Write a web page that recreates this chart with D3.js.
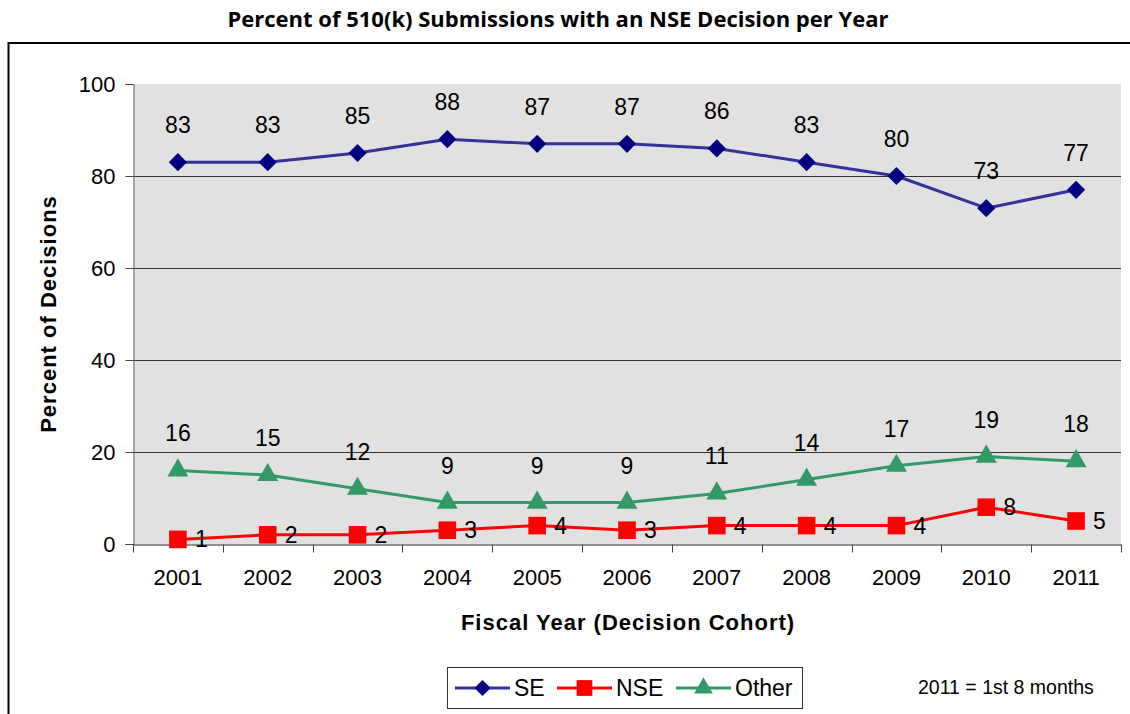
<!DOCTYPE html>
<html>
<head>
<meta charset="utf-8">
<script src="https://cdn.jsdelivr.net/npm/d3@7"></script>
<style>
  body { margin: 0; background: #fff; }
  svg { display: block; font-family: "Liberation Sans", Arial, sans-serif; }
</style>
</head>
<body>
<div id="chart"></div>
<script>
// Data
var years = ["2001", "2002", "2003", "2004", "2005", "2006", "2007", "2008", "2009", "2010", "2011"];
var seValues = [83, 83, 85, 88, 87, 87, 86, 83, 80, 73, 77];
var nseValues = [1, 2, 2, 3, 4, 3, 4, 4, 4, 8, 5];
var otherValues = [16, 15, 12, 9, 9, 9, 11, 14, 17, 19, 18];
var yTicks = [0, 20, 40, 60, 80, 100];
var seriesNames = ["SE", "NSE", "Other"];

// diamond = square turned 45 degrees
var series = [
  {name: seriesNames[0], values: seValues, line: "#333399", marker: "#000080", shape: d3.symbolSquare, rot: 45, size: 165, label: "above"},
  {name: seriesNames[1], values: nseValues, line: "#ff0000", marker: "#ff0000", shape: d3.symbolSquare, rot: 0, size: 310, label: "right"},
  {name: seriesNames[2], values: otherValues, line: "#339966", marker: "#339966", shape: d3.symbolTriangle, rot: 0, size: 190, label: "above"}
];

// Chart dimensions
var W = 1130, H = 714;
var plot = {left: 133, top: 84, right: 1121, bottom: 544};

var svg = d3.select("#chart").append("svg")
  .attr("width", W)
  .attr("height", H);

// Outer frame (runs off the right and bottom edges)
svg.append("rect")
  .attr("x", 8.5).attr("y", 43)
  .attr("width", 1140).attr("height", 700)
  .attr("fill", "none")
  .attr("stroke", "#000")
  .attr("stroke-width", 2);

// Title
svg.append("text")
  .attr("x", 558).attr("y", 27)
  .attr("text-anchor", "middle")
  .style("font-family", "'Open Sans', 'Noto Sans', sans-serif")
  .style("font-weight", "bold")
  .style("font-size", "22px")
  .text("Percent of 510(k) Submissions with an NSE Decision per Year");

// Scales
var x = d3.scaleBand().domain(years).range([plot.left, plot.right]);
var y = d3.scaleLinear().domain([0, 100]).range([plot.bottom, plot.top]);

// Plot background
svg.append("rect")
  .attr("x", plot.left).attr("y", plot.top)
  .attr("width", plot.right - plot.left)
  .attr("height", plot.bottom - plot.top)
  .attr("fill", "#e1e1e1");

// Gridlines
svg.append("g")
  .selectAll("line")
  .data(yTicks.filter(function(d) { return d > 0 && d < 100; }))
  .enter().append("line")
  .attr("x1", plot.left).attr("x2", plot.right)
  .attr("y1", function(d) { return Math.round(y(d)) + 0.5; })
  .attr("y2", function(d) { return Math.round(y(d)) + 0.5; })
  .attr("stroke", "#333")
  .attr("stroke-width", 1);

// Y axis
var yAxis = svg.append("g")
  .attr("transform", "translate(" + (plot.left + 0.5) + ",0)")
  .call(d3.axisLeft(y).tickValues(yTicks).tickSize(8).tickPadding(10));
yAxis.selectAll("text").style("font-size", "22px").attr("fill", "#000");
yAxis.select(".domain").attr("stroke", "#666");
yAxis.selectAll(".tick line").attr("stroke", "#444");

// X axis with tick marks at category boundaries
var xAxis = svg.append("g")
  .attr("transform", "translate(0," + (plot.bottom + 0.5) + ")")
  .call(d3.axisBottom(x).tickSize(0).tickPadding(25));
xAxis.selectAll("text").style("font-size", "22px").attr("fill", "#000");
xAxis.select(".domain").attr("stroke", "#222");
xAxis.selectAll(".bound")
  .data(years.concat(["end"]))
  .enter().append("line")
  .attr("class", "bound")
  .attr("x1", function(d, i) { return Math.round(plot.left + i * x.step()) + 0.5; })
  .attr("x2", function(d, i) { return Math.round(plot.left + i * x.step()) + 0.5; })
  .attr("y1", 0).attr("y2", 8)
  .attr("stroke", "#444");

// Axis titles
svg.append("text")
  .attr("transform", "translate(56," + ((plot.top + plot.bottom) / 2) + ") rotate(-90)")
  .attr("text-anchor", "middle")
  .style("font-weight", "bold")
  .style("font-size", "22px")
  .style("letter-spacing", "1px")
  .text("Percent of Decisions");

svg.append("text")
  .attr("x", 628).attr("y", 630)
  .attr("text-anchor", "middle")
  .style("font-weight", "bold")
  .style("font-size", "22px")
  .style("letter-spacing", "1px")
  .text("Fiscal Year (Decision Cohort)");

// Lines, markers and labels
var cx = function(d, i) { return x(years[i]) + x.bandwidth() / 2; };

var line = d3.line()
  .x(function(d, i) { return cx(d, i); })
  .y(function(d) { return y(d); });

series.forEach(function(s) {
  svg.append("path")
    .datum(s.values)
    .attr("fill", "none")
    .attr("stroke", s.line)
    .attr("stroke-width", 3)
    .attr("stroke-linejoin", "round")
    .attr("d", line);
});

series.forEach(function(s) {
  var g = svg.append("g");
  g.selectAll("path")
    .data(s.values)
    .enter().append("path")
    .attr("transform", function(d, i) {
      return "translate(" + cx(d, i) + "," + y(d) + ") rotate(" + s.rot + ")";
    })
    .attr("d", d3.symbol().type(s.shape).size(s.size))
    .attr("fill", s.marker);

  g.selectAll("text")
    .data(s.values)
    .enter().append("text")
    .attr("x", function(d, i) { return s.label === "right" ? cx(d, i) + 17 : cx(d, i); })
    .attr("y", function(d) { return s.label === "right" ? y(d) + 8 : y(d) - 29; })
    .attr("text-anchor", s.label === "right" ? "start" : "middle")
    .style("font-size", "23px")
    .text(function(d) { return d; });
});

// Legend
var legend = svg.append("g");
legend.append("rect")
  .attr("x", 447.5).attr("y", 667.5)
  .attr("width", 355).attr("height", 41)
  .attr("fill", "#fff")
  .attr("stroke", "#333")
  .attr("stroke-width", 1);

var legendX = [455, 557, 676];
series.forEach(function(s, i) {
  var lx = legendX[i];
  var ly = 688;
  legend.append("line")
    .attr("x1", lx).attr("x2", lx + 55)
    .attr("y1", ly).attr("y2", ly)
    .attr("stroke", s.line)
    .attr("stroke-width", 3);
  legend.append("path")
    .attr("transform", "translate(" + (lx + 27.5) + "," + ly + ") rotate(" + s.rot + ")")
    .attr("d", d3.symbol().type(s.shape).size(s.size * 0.8))
    .attr("fill", s.marker);
  legend.append("text")
    .attr("x", lx + 59).attr("y", ly + 8)
    .style("font-size", "23px")
    .text(s.name);
});

svg.append("text")
  .attr("x", 918).attr("y", 694)
  .style("font-size", "19.5px")
  .text("2011 = 1st 8 months");
</script>
</body>
</html>
